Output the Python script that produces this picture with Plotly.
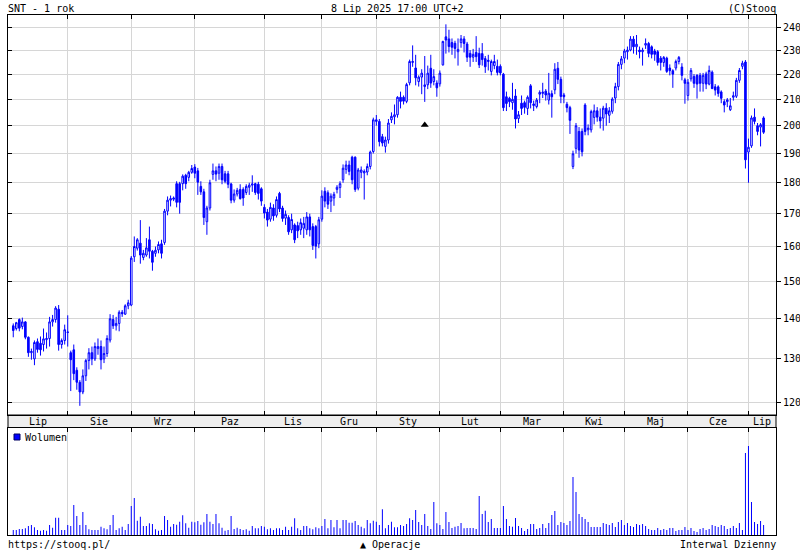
import math
import plotly.graph_objects as go

# ---------------- data ----------------
months = ["Lip", "Sie", "Wrz", "Paz", "Lis", "Gru", "Sty", "Lut", "Mar", "Kwi", "Maj", "Cze", "Lip"]
month_start = [0, 18, 39, 60, 83, 102, 120, 141, 161, 182, 202, 223, 243]

price_ticks = [120, 130, 140, 150, 160, 170, 180, 190, 200, 210, 220, 230, 240]

# daily candles (open, high, low, close), 8 Jul 2024 .. 8 Jul 2025
opens = [
    138.2, 137.5, 139.8, 138.0, 139.2, 135.3, 131.5, 130.0, 134.2, 133.8, 133.5, 134.7, 135.0, 139.2, 139.8, 142.5, 133.5, 134.5,
    136.5, 131.5, 132.2, 127.3, 124.5, 122.3, 126.0, 129.6, 131.5, 130.0, 132.5, 133.0, 130.0, 131.3, 134.6, 139.8, 138.2, 138.8, 141.7, 141.2, 143.4,
    143.6, 157.0, 159.5, 161.0, 156.8, 157.5, 162.0, 158.6, 158.0, 159.0, 160.8, 161.2, 170.8, 174.3, 174.6, 179.7, 179.7, 179.7, 182.5, 181.8, 183.5,
    185.3, 184.0, 178.8, 177.0, 167.5, 171.8, 182.8, 184.0, 183.2, 185.5, 183.0, 183.0, 179.6, 174.3, 176.3, 177.8, 177.8, 176.8, 178.5, 179.2, 179.7, 179.5, 178.0,
    172.0, 170.5, 168.3, 171.8, 169.5, 176.5, 171.8, 168.6, 168.8, 165.0, 166.5, 166.3, 165.0, 165.5, 165.0, 169.0, 166.0, 166.0, 160.8,
    168.3, 177.2, 176.7, 174.0, 175.0, 177.8, 178.4, 181.0, 184.5, 186.0, 188.7, 188.7, 178.2, 183.5, 183.3, 183.6, 185.5, 190.7,
    201.6, 201.6, 196.0, 192.5, 194.8, 202.2, 203.3, 204.1, 210.8, 210.8, 209.2, 216.5, 224.8, 222.5, 217.0, 218.8, 215.0, 215.7, 222.4, 217.0, 216.4,
    216.1, 223.8, 235.7, 234.8, 233.2, 232.9, 229.3, 233.2, 234.8, 232.6, 228.6, 227.0, 229.0, 228.6, 228.5, 226.4, 225.2, 221.1, 223.5, 223.2,
    223.2, 220.0, 211.0, 210.4, 208.7, 211.3, 202.7, 208.5, 208.7, 206.5, 215.3, 207.6, 207.2, 212.0, 212.3, 213.2, 209.7, 212.2, 213.7, 222.4, 217.9,
    211.7, 208.1, 206.8, 185.5, 191.8, 197.9, 197.9, 207.8, 198.5, 198.5, 203.1, 205.6, 203.2, 202.8, 206.6, 203.9, 205.4, 210.5, 215.0, 224.0,
    226.6, 229.3, 230.0, 234.7, 231.4, 230.0, 229.3, 232.1, 232.8, 231.4, 229.6, 229.3, 226.6, 224.8, 226.6, 222.5, 221.4, 222.5, 225.2, 222.9, 217.7,
    211.5, 218.1, 219.0, 219.5, 219.5, 216.3, 220.1, 216.0, 220.8, 214.9, 214.9, 212.9, 209.1, 209.1, 206.0, 210.8, 211.2, 217.5, 223.2, 225.0,
    190.5, 192.7, 203.2, 200.0, 199.5, 202.9,
]
highs = [
    138.8, 139.2, 140.1, 140.3, 139.4, 135.5, 132.5, 134.5, 135.0, 135.5, 137.5, 136.5, 140.5, 141.0, 143.3, 143.6, 135.0, 138.5,
    140.9, 132.0, 133.5, 128.0, 125.0, 127.5, 130.0, 132.6, 133.0, 134.0, 135.0, 134.5, 133.0, 135.8, 141.2, 141.0, 140.5, 142.2, 142.3, 143.8, 145.0,
    157.2, 163.0, 162.5, 168.0, 159.0, 162.5, 166.0, 159.0, 160.0, 161.5, 162.0, 171.5, 175.5, 175.8, 175.5, 180.5, 180.3, 182.8, 183.0, 184.0, 186.0,
    186.3, 185.0, 180.5, 178.0, 172.5, 181.0, 186.5, 185.5, 186.5, 186.5, 184.0, 184.0, 180.0, 177.8, 178.3, 179.5, 178.5, 179.5, 180.0, 182.5, 180.0, 180.3, 178.5,
    173.0, 171.5, 173.5, 173.0, 175.5, 177.0, 172.5, 171.0, 169.5, 170.0, 167.0, 167.5, 168.5, 169.0, 170.5, 170.0, 167.0, 166.5, 169.0,
    177.5, 178.5, 177.5, 176.5, 177.0, 179.2, 180.5, 186.2, 187.5, 187.5, 189.2, 189.0, 185.0, 185.5, 184.5, 186.5, 191.0, 203.0,
    204.0, 202.5, 197.0, 196.0, 202.5, 205.0, 208.0, 211.2, 213.0, 211.5, 216.5, 226.0, 232.0, 228.0, 219.5, 222.0, 227.5, 223.5, 228.0, 222.0, 217.5,
    221.5, 234.0, 241.2, 238.8, 235.0, 234.0, 235.0, 236.5, 236.0, 233.5, 230.0, 230.5, 236.0, 231.0, 233.0, 227.5, 228.0, 226.0, 228.0, 226.0,
    224.0, 220.5, 213.0, 211.0, 216.5, 214.0, 205.5, 211.5, 209.5, 211.5, 216.0, 209.5, 210.5, 213.5, 216.5, 214.0, 220.5, 213.5, 224.5, 225.0, 219.0,
    212.5, 209.0, 207.5, 191.0, 201.0, 199.5, 199.0, 208.5, 200.5, 206.0, 208.0, 207.0, 206.5, 207.5, 208.5, 207.0, 210.8, 216.5, 225.0, 227.5,
    230.5, 231.5, 236.0, 236.0, 236.5, 231.5, 231.0, 235.0, 233.5, 232.0, 230.5, 230.0, 227.5, 227.5, 227.2, 224.0, 222.0, 226.0, 227.5, 224.5, 218.5,
    218.0, 222.5, 220.0, 220.0, 220.5, 220.5, 221.0, 223.5, 221.5, 216.0, 215.5, 213.5, 210.0, 210.5, 210.5, 213.0, 218.5, 222.5, 225.5, 225.8,
    195.3, 203.8, 206.5, 201.0, 201.0, 203.5,
]
lows = [
    135.3, 137.0, 136.8, 137.3, 134.8, 130.5, 129.8, 128.5, 131.5, 130.8, 131.8, 132.5, 133.0, 138.0, 139.0, 132.0, 132.5, 133.5,
    133.0, 122.5, 125.0, 122.8, 119.2, 121.8, 124.8, 127.5, 128.5, 129.5, 131.0, 127.5, 129.0, 130.5, 134.0, 137.4, 137.0, 136.8, 140.5, 141.0, 142.5,
    143.3, 155.5, 158.8, 155.0, 156.0, 157.0, 156.5, 153.0, 157.0, 158.0, 156.5, 160.5, 169.5, 172.3, 174.0, 172.0, 170.0, 177.5, 178.0, 180.5, 183.0,
    181.5, 176.0, 176.0, 166.5, 163.5, 171.0, 181.0, 180.5, 181.0, 179.5, 179.8, 178.2, 173.3, 173.5, 175.5, 174.5, 172.5, 176.0, 176.0, 177.0, 176.0, 174.5, 172.5,
    168.5, 166.0, 167.5, 167.8, 168.8, 170.5, 167.5, 166.5, 163.5, 164.0, 161.0, 162.5, 163.5, 162.5, 163.5, 163.0, 159.0, 156.5, 159.5,
    167.5, 172.0, 171.5, 170.5, 172.5, 176.5, 175.0, 180.0, 183.0, 182.5, 179.5, 177.0, 177.5, 181.5, 174.5, 182.5, 184.5, 190.0,
    200.0, 192.5, 192.5, 190.3, 193.5, 201.0, 200.5, 203.0, 206.5, 208.0, 208.5, 215.5, 223.0, 215.5, 215.0, 212.0, 209.0, 214.0, 214.5, 215.5, 211.0,
    215.0, 223.5, 228.5, 229.0, 228.0, 226.5, 223.5, 231.0, 229.0, 225.0, 223.0, 225.0, 225.0, 222.5, 223.5, 220.5, 221.5, 219.5, 222.0, 219.5,
    219.5, 205.5, 205.5, 207.0, 206.0, 199.0, 201.0, 204.0, 204.5, 204.0, 206.5, 205.5, 206.5, 208.5, 210.5, 209.5, 208.0, 203.0, 212.0, 216.0, 208.5,
    208.5, 205.0, 197.0, 184.6, 190.0, 188.5, 189.0, 196.5, 196.5, 197.5, 200.5, 201.5, 199.0, 198.2, 200.0, 201.0, 204.5, 208.5, 213.5, 222.0,
    224.5, 226.0, 229.5, 228.5, 228.0, 226.5, 223.5, 230.5, 227.0, 226.5, 225.5, 223.5, 221.5, 223.0, 220.5, 219.5, 214.5, 221.5, 224.0, 217.5, 208.3,
    209.5, 217.0, 214.5, 210.3, 213.0, 213.0, 214.0, 215.5, 214.0, 211.5, 211.0, 208.5, 205.0, 207.0, 205.5, 209.5, 210.5, 216.5, 222.0, 184.8,
    180.0, 192.0, 200.5, 196.5, 192.5, 197.0,
]
closes = [
    137.0, 139.0, 137.6, 139.2, 135.3, 131.5, 131.8, 134.0, 132.3, 132.2, 134.9, 135.0, 139.2, 139.8, 142.8, 133.5, 134.5, 137.2,
    136.6, 129.8, 126.5, 124.5, 122.3, 126.0, 129.6, 131.5, 130.0, 133.0, 133.0, 129.8, 131.3, 135.0, 140.0, 138.2, 138.8, 141.7, 141.3, 143.4, 144.2,
    156.6, 160.0, 162.0, 157.5, 158.0, 159.6, 158.6, 155.4, 158.9, 160.6, 158.0, 170.8, 174.3, 174.8, 175.0, 173.6, 173.6, 182.2, 179.7, 183.5, 184.8,
    183.2, 180.2, 177.0, 168.8, 171.8, 180.0, 184.0, 182.9, 185.5, 181.0, 180.5, 179.5, 174.3, 176.3, 177.5, 174.8, 175.0, 178.8, 179.2, 179.6, 176.8, 176.5, 174.0,
    170.2, 168.0, 172.0, 169.3, 174.5, 171.5, 168.5, 169.8, 164.4, 168.2, 162.0, 164.7, 167.2, 167.0, 169.0, 165.0, 160.3, 160.1, 168.1,
    175.6, 174.0, 173.0, 175.6, 176.2, 178.5, 179.7, 184.9, 186.0, 183.8, 181.0, 177.8, 184.3, 184.3, 183.8, 185.5, 190.5, 202.2,
    202.2, 194.2, 193.7, 194.8, 201.0, 203.5, 204.1, 210.8, 209.2, 209.3, 215.8, 225.2, 225.2, 218.5, 218.8, 220.4, 215.7, 220.4, 216.4, 219.0, 214.5,
    220.4, 233.7, 234.3, 231.5, 231.2, 230.7, 230.3, 234.8, 232.8, 227.0, 227.0, 228.2, 227.2, 223.8, 226.0, 223.0, 225.7, 225.2, 225.2, 220.7,
    220.5, 206.8, 208.4, 209.1, 210.0, 202.5, 204.1, 206.5, 206.9, 210.8, 208.7, 208.2, 209.7, 212.7, 212.8, 211.7, 212.4, 211.0, 222.0, 217.9, 211.1,
    211.0, 206.8, 202.0, 189.9, 200.0, 191.2, 190.6, 197.9, 199.1, 205.3, 205.6, 203.2, 201.8, 206.6, 204.4, 205.6, 210.1, 215.0, 224.0, 226.3,
    229.6, 230.0, 234.7, 231.4, 232.5, 229.3, 230.0, 232.8, 228.6, 228.2, 228.2, 224.8, 224.8, 226.9, 221.1, 221.4, 220.0, 225.2, 226.9, 219.5, 216.3,
    216.7, 221.5, 216.3, 216.0, 216.3, 219.5, 216.0, 221.5, 214.2, 213.6, 212.3, 210.4, 207.8, 209.8, 207.5, 211.4, 217.5, 221.5, 224.5, 187.8,
    192.2, 202.9, 201.6, 197.9, 200.4, 197.6,
]

# daily volume (relative units)
volume = [
    50, 50, 60, 60, 67, 90, 100, 77, 50, 43,
    50, 43, 100, 73, 173, 173, 50, 50, 100, 90,
    300, 190, 100, 230, 100, 57, 50, 50, 50, 83,
    67, 57, 100, 200, 50, 67, 83, 50, 110, 290,
    370, 143, 183, 90, 90, 117, 110, 57, 43, 50,
    190, 150, 83, 110, 103, 133, 197, 117, 73, 133,
    127, 140, 103, 127, 210, 133, 110, 210, 117, 73,
    43, 50, 190, 60, 73, 60, 50, 57, 43, 90,
    67, 67, 90, 83, 57, 67, 50, 67, 67, 50,
    83, 50, 83, 167, 67, 50, 90, 90, 67, 57,
    77, 67, 90, 160, 67, 150, 77, 150, 67, 150,
    150, 123, 123, 140, 100, 83, 67, 150, 117, 143,
    133, 100, 257, 67, 100, 133, 77, 77,
    100, 90, 110, 167, 150, 250, 130, 100, 210, 90,
    60, 330, 117, 100, 60, 230, 130, 70, 83, 90,
    120, 67, 70, 70, 70, 60, 390, 210, 243, 130,
    160, 70, 70, 70, 290, 160, 90, 83, 170, 90,
    70, 40, 60, 110, 110, 60, 70, 110, 70, 120,
    200, 240, 100, 130, 120, 100, 140, 580, 430, 210,
    180, 160, 130, 80, 80, 80, 80, 120, 110, 100,
    120, 80, 130, 150, 100, 120, 90, 80, 110, 100,
    110, 90, 60, 50, 50, 70, 50, 60, 50, 70,
    70, 40, 50, 50, 80, 50, 70, 40, 30, 60,
    70, 50, 60, 100, 90, 80, 100, 90, 60, 70,
    90, 70, 120, 50, 820, 890, 330, 130, 110, 140,
    100,
]

# corporate operation marker ("Operacje")
op_index = [136]
op_price = [200.3]

# ---------------- style ----------------
BLUE = "#0000ff"
GRID = "#d6d6d6"
FONT = "DejaVu Sans Mono"

W, H = 800, 550
ML, MR, MT, MB = 8, 24, 15, 15
PH = H - MT - MB
price_bottom_px = 415
vol_top_px = 427.5
y_price_lo = (H - MB - price_bottom_px) / PH
y_vol_hi = (H - MB - vol_top_px) / PH

xmin, xmax = -1.74, 252.1
prange = [math.log10(117.2), math.log10(245.4)]

n = len(closes)
xs = list(range(n))
xv = list(range(len(volume)))

bounds = [xmin] + month_start[1:] + [xmax]
label_x = [(bounds[k] + bounds[k + 1]) / 2 for k in range(len(months))]

fig = go.Figure()
fig.add_trace(go.Candlestick(
    x=xs, open=opens, high=highs, low=lows, close=closes,
    xaxis="x", yaxis="y",
    increasing=dict(line=dict(color=BLUE, width=1), fillcolor="white"),
    decreasing=dict(line=dict(color=BLUE, width=1), fillcolor=BLUE),
    whiskerwidth=0, hoverinfo="skip", showlegend=False,
))
fig.add_trace(go.Scatter(
    x=op_index, y=op_price, mode="markers", xaxis="x", yaxis="y",
    marker=dict(symbol="triangle-up", size=7, color="black"),
    hoverinfo="skip", showlegend=False,
))
fig.add_trace(go.Scatter(x=[], y=[], xaxis="x", yaxis="y3", showlegend=False))
fig.add_trace(go.Bar(
    x=xv, y=volume, xaxis="x2", yaxis="y2", width=0.33,
    marker=dict(color=BLUE, line=dict(width=0)), hoverinfo="skip", showlegend=False,
))

annotations = []
for lx, m in zip(label_x, months):
    annotations.append(dict(x=lx, xref="x", y=(H - MB - (price_bottom_px + vol_top_px) / 2) / PH, yref="paper",
                            text=m, showarrow=False, xanchor="center", yanchor="middle",
                            font=dict(family=FONT, size=10, color="black")))

def ptext(txt, xpx, ypx, anchor):
    return dict(x=(xpx - ML) / (W - ML - MR), xref="paper", y=(H - MB - ypx) / PH, yref="paper",
                text=txt, showarrow=False, xanchor=anchor, yanchor="middle",
                font=dict(family=FONT, size=10, color="black"), borderpad=0)

annotations += [
    ptext("SNT - 1 rok", 7, 8, "left"),
    ptext("8 Lip 2025 17:00 UTC+2", 397, 8, "center"),
    ptext("(C)Stooq", 777, 8, "right"),
    ptext("https://stooq.pl/", 7, 544, "left"),
    ptext("▲ Operacje", 390, 544, "center"),
    ptext("Interwal Dzienny", 777, 544, "right"),
    ptext("Wolumen", 24, 437, "left"),
]

shapes = [
    dict(type="rect", xref="paper", yref="paper", x0=0, x1=1, y0=y_vol_hi, y1=y_price_lo,
         fillcolor="#eeeeee", line=dict(color="black", width=1), layer="below"),
    dict(type="rect", xref="paper", yref="paper",
         x0=(14 - ML) / (W - ML - MR), x1=(20 - ML) / (W - ML - MR),
         y0=(H - MB - 440) / PH, y1=(H - MB - 434) / PH,
         fillcolor=BLUE, line=dict(color="#000060", width=1)),
]

common_x = dict(range=[xmin, xmax], tickvals=month_start[1:], showticklabels=False,
                ticks="inside", ticklen=4, tickcolor="black", showgrid=True, gridcolor=GRID,
                gridwidth=1, showline=True, linecolor="black", linewidth=1, zeroline=False,
                automargin=False)

fig.update_layout(
    width=W, height=H, margin=dict(l=ML, r=MR, t=MT, b=MB, autoexpand=False),
    paper_bgcolor="white", plot_bgcolor="white", showlegend=False,
    boxgap=0.25,
    font=dict(family=FONT, size=10, color="black"),
    xaxis=dict(domain=[0, 1], anchor="y", mirror="ticks", rangeslider=dict(visible=False), **common_x),
    yaxis=dict(domain=[y_price_lo, 1], anchor="x", type="log", range=prange, side="right",
               tickvals=price_ticks, ticktext=[str(v) for v in price_ticks],
               ticks="outside", ticklen=4, tickcolor="black", showgrid=True, gridcolor=GRID,
               showline=True, linecolor="black", linewidth=1, zeroline=False, automargin=False,
               tickfont=dict(family=FONT, size=10, color="black")),
    yaxis3=dict(overlaying="y", anchor="x", side="left", type="log", range=prange,
                tickvals=price_ticks, ticks="inside", ticklen=4, tickcolor="black",
                showticklabels=False, showgrid=False, showline=True, linecolor="black",
                linewidth=1, zeroline=False, automargin=False),
    xaxis2=dict(domain=[0, 1], anchor="y2", side="top", mirror=True, **common_x),
    yaxis2=dict(domain=[0, y_vol_hi], anchor="x2", range=[0, 1075], showticklabels=False,
                ticks="", showgrid=False, showline=True, mirror=True, linecolor="black",
                linewidth=1, zeroline=False, automargin=False),
    annotations=annotations,
    shapes=shapes,
)

fig.write_html("out.html", config={"displayModeBar": False, "staticPlot": True},
               post_script="document.body.style.margin='0';")
